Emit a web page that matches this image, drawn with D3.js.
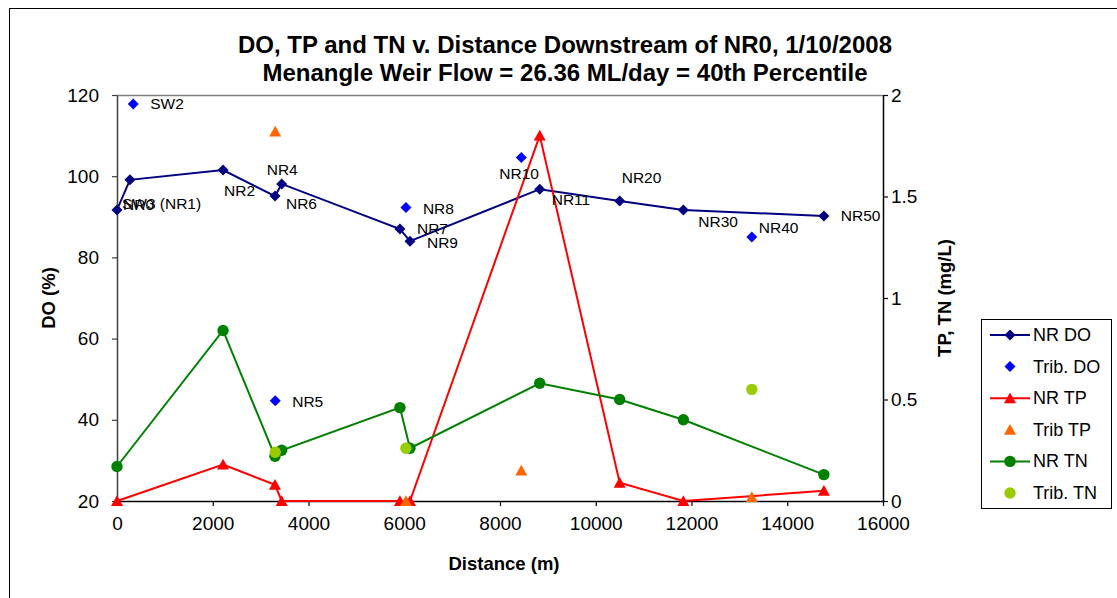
<!DOCTYPE html>
<html>
<head>
<meta charset="utf-8">
<script src="https://cdn.jsdelivr.net/npm/d3@7"></script>
<style>
  html, body { margin: 0; padding: 0; background: #fff; }
  svg { display: block; font-family: "Liberation Sans", Arial, sans-serif; }
</style>
</head>
<body>
<svg id="chart" width="1117" height="598"></svg>
<script>
// Sampling sites along the main river (NR) – distance downstream of NR0 (m)
const nrDistance = [0, 270, 2215, 3300, 3440, 5910, 6120, 8830, 10500, 11830, 14765];
const nrLabels   = ["NR0", "SW3 (NR1)", "NR2", "NR6", "NR4", "NR7", "NR9", "NR11", "NR20", "NR30", "NR50"];
const nrDO = [91.7, 99.1, 101.5, 95.1, 98.1, 87.0, 84.0, 96.8, 93.9, 91.7, 90.2];     // %
const nrTP = [0.00, null, 0.18, 0.08, 0.00, 0.00, 0.00, 1.80, 0.09, 0.00, 0.05];      // mg/L
const nrTN = [0.17, null, 0.84, 0.22, 0.25, 0.46, 0.26, 0.58, 0.50, 0.40, 0.13];      // mg/L

// Tributary sites
const tribDistance = [340, 3305, 6035, 8445, 13260];
const tribLabels   = ["SW2", "NR5", "NR8", "NR10", "NR40"];
const tribDO = [117.8, 44.7, 92.3, 104.6, 85.0];
const tribTP = [null, 1.82, 0.00, 0.15, 0.02];
const tribTN = [null, 0.24, 0.26, null, 0.55];

// Axis ticks
const xTicks = [0, 2000, 4000, 6000, 8000, 10000, 12000, 14000, 16000];
const doTicks = [20, 40, 60, 80, 100, 120];
const nutrientTicks = [0, 0.5, 1, 1.5, 2];

// Label placement relative to each marker (dx, dy in px)
const nrLabelOffset = [[6, -5], [-8, 24], [1, 20], [11, 7], [-15, -14], [17, 0], [17, 1], [12, 10], [2, -23], [15, 12], [17, 0]];
const tribLabelOffset = [[17, 0], [17, 1], [17, 1], [-22, 16], [7, -10]];

const svg = d3.select("#chart");
const plot = { left: 117, right: 883, top: 95, bottom: 501 };

const x = d3.scaleLinear().domain([0, 16000]).range([plot.left, plot.right]);
const yDO = d3.scaleLinear().domain([20, 120]).range([plot.bottom, plot.top]);
const yNut = d3.scaleLinear().domain([0, 2]).range([plot.bottom, plot.top]);

// outer chart frame
svg.append("rect").attr("x", 9.5).attr("y", 8.5).attr("width", 1300).attr("height", 800)
  .attr("fill", "none").attr("stroke", "#000").attr("stroke-width", 1);

// title
const title = svg.append("text").attr("text-anchor", "middle").attr("font-weight", "bold")
  .attr("font-size", "24px").attr("fill", "#000");
title.append("tspan").attr("x", 565).attr("y", 53).text("DO, TP and TN v. Distance Downstream of NR0, 1/10/2008");
title.append("tspan").attr("x", 565).attr("y", 81).text("Menangle Weir Flow = 26.36 ML/day = 40th Percentile");

// plot frame top edge
svg.append("line").attr("x1", plot.left).attr("x2", plot.right).attr("y1", plot.top + 0.5).attr("y2", plot.top + 0.5)
  .attr("stroke", "#808080").attr("stroke-width", 1.5);

function styleAxis(g, color) {
  g.select(".domain").attr("stroke", color).attr("stroke-width", 1.5);
  g.selectAll(".tick line").attr("stroke", color).attr("stroke-width", 1.2);
  g.selectAll(".tick text").attr("fill", "#000").attr("font-size", "19px")
    .attr("font-family", "'Liberation Sans', Arial, sans-serif");
}

const axL = svg.append("g").attr("transform", `translate(${plot.left},0)`)
  .call(d3.axisLeft(yDO).tickValues(doTicks).tickSize(5).tickSizeOuter(0).tickPadding(13));
styleAxis(axL, "#404040");

const axR = svg.append("g").attr("transform", `translate(${plot.right},0)`)
  .call(d3.axisRight(yNut).tickValues(nutrientTicks).tickFormat(d3.format("~g")).tickSize(5).tickSizeOuter(0).tickPadding(3));
styleAxis(axR, "#000");

const axB = svg.append("g").attr("transform", `translate(0,${plot.bottom})`)
  .call(d3.axisBottom(x).tickValues(xTicks).tickFormat(d3.format("d")).tickSize(5).tickSizeOuter(0).tickPadding(11));
styleAxis(axB, "#000");

// axis titles
svg.append("text").attr("x", 504).attr("y", 570).attr("text-anchor", "middle")
  .attr("font-weight", "bold").attr("font-size", "18.5px").text("Distance (m)");
svg.append("text").attr("transform", "translate(55,298) rotate(-90)").attr("text-anchor", "middle")
  .attr("font-weight", "bold").attr("font-size", "18.5px").text("DO (%)");
svg.append("text").attr("transform", "translate(951,298) rotate(-90)").attr("text-anchor", "middle")
  .attr("font-weight", "bold").attr("font-size", "18.5px").text("TP, TN (mg/L)");

// marker shapes
const diamond = "M0,-5.5L5.5,0L0,5.5L-5.5,0Z";
const triangle = "M0,-5.8L6,5L-6,5Z";

function pts(dist, vals, labels) {
  return dist.map((d, i) => ({ d, v: vals[i], label: labels ? labels[i] : null, i }))
    .filter(p => p.v !== null);
}

function drawSeries(data, yScale, color, shape, withLine) {
  const g = svg.append("g");
  if (withLine) {
    g.append("path").datum(data)
      .attr("d", d3.line().x(p => x(p.d)).y(p => yScale(p.v)))
      .attr("fill", "none").attr("stroke", color).attr("stroke-width", 2);
  }
  if (shape === "circle") {
    g.selectAll("circle").data(data).join("circle")
      .attr("cx", p => x(p.d)).attr("cy", p => yScale(p.v)).attr("r", 5.7).attr("fill", color);
  } else {
    g.selectAll("path.m").data(data).join("path").attr("class", "m")
      .attr("d", shape).attr("transform", p => `translate(${x(p.d)},${yScale(p.v)})`).attr("fill", color);
  }
}

const nrDOData = pts(nrDistance, nrDO, nrLabels);
const tribDOData = pts(tribDistance, tribDO, tribLabels);

drawSeries(nrDOData, yDO, "#000080", diamond, true);
drawSeries(tribDOData, yDO, "#0000FF", diamond, false);
drawSeries(pts(nrDistance, nrTP), yNut, "#FF0000", triangle, true);
drawSeries(pts(tribDistance, tribTP), yNut, "#FF6600", triangle, false);
drawSeries(pts(nrDistance, nrTN), yNut, "#008000", "circle", true);
drawSeries(pts(tribDistance, tribTN), yNut, "#99CC00", "circle", false);

// site labels
function drawLabels(data, offsets) {
  svg.append("g").selectAll("text").data(data).join("text")
    .attr("x", p => x(p.d) + offsets[p.i][0])
    .attr("y", p => yDO(p.v) + offsets[p.i][1])
    .attr("dominant-baseline", "central")
    .attr("font-size", "15.5px").attr("fill", "#000")
    .text(p => p.label);
}
drawLabels(nrDOData, nrLabelOffset);
drawLabels(tribDOData, tribLabelOffset);

// legend
const legendItems = [
  { name: "NR DO", color: "#000080", shape: diamond, line: true },
  { name: "Trib. DO", color: "#0000FF", shape: diamond, line: false },
  { name: "NR TP", color: "#FF0000", shape: triangle, line: true },
  { name: "Trib TP", color: "#FF6600", shape: triangle, line: false },
  { name: "NR TN", color: "#008000", shape: "circle", line: true },
  { name: "Trib. TN", color: "#99CC00", shape: "circle", line: false }
];
const lg = svg.append("g");
lg.append("rect").attr("x", 981.5).attr("y", 319.5).attr("width", 130).attr("height", 189)
  .attr("fill", "#fff").attr("stroke", "#000").attr("stroke-width", 1);
const rows = lg.selectAll("g.row").data(legendItems).join("g").attr("class", "row")
  .attr("transform", (d, i) => `translate(1010,${335 + i * 31.6})`);
rows.filter(d => d.line).append("line").attr("x1", -20).attr("x2", 20)
  .attr("stroke", d => d.color).attr("stroke-width", 2);
rows.each(function (d) {
  const r = d3.select(this);
  if (d.shape === "circle") r.append("circle").attr("r", 5.7).attr("fill", d.color);
  else r.append("path").attr("d", d.shape).attr("fill", d.color);
});
rows.append("text").attr("x", 23).attr("dominant-baseline", "central")
  .attr("font-size", "18px").attr("fill", "#000").text(d => d.name);
</script>
</body>
</html>
